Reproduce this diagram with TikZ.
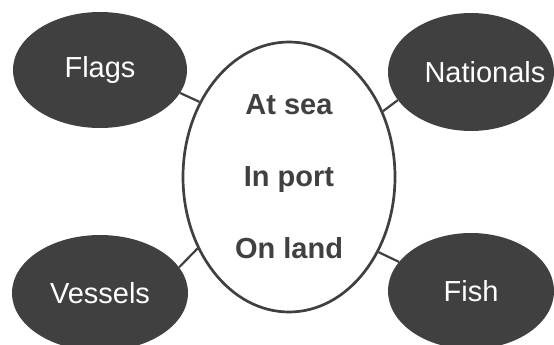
\documentclass[tikz,border=0pt]{standalone}
\usepackage{fontspec}
\setmainfont{Liberation Sans}
\usetikzlibrary{shapes}
\definecolor{darkgrey}{HTML}{404040}

\begin{document}
\begin{tikzpicture}[x=1pt, y=-1pt,
    outer/.style={ellipse, fill=darkgrey, text=white, inner sep=0pt,
        font=\fontsize{29}{35}\selectfont},
    hub/.style={ellipse, draw=darkgrey, line width=2.7pt, fill=white,
        text=darkgrey, align=center, inner sep=0pt,
        font=\fontsize{29}{35}\selectfont\bfseries},
    link/.style={draw=darkgrey, line width=2.2pt}]
    \useasboundingbox (0,0) rectangle (554,345);

    % Centre
    \node[hub, minimum width=212pt, minimum height=270pt] (where) at (289,177)
        {At sea\\[37pt]In port\\[37pt]On land};

    % Top row
    \node[outer, minimum width=174pt, minimum height=116pt] (flags) at (100,70) {Flags};
    \node[outer, minimum width=166pt, minimum height=118pt] (nationals) at (471,72)
        {\makebox[0pt]{\hspace*{28pt}Nationals}};

    % Bottom row
    \node[outer, minimum width=176pt, minimum height=116pt] (vessels) at (100,293) {Vessels};
    \node[outer, minimum width=166pt, minimum height=116pt] (fish) at (471,291) {Fish};

    % Links
    \draw[link] (flags.-16) -- (where.140.6);
    \draw[link] (nationals.201.8) -- (where.35.5);
    \draw[link] (vessels.18.7) -- (where.218.4);
    \draw[link] (fish.158.7) -- (where.320.2);
\end{tikzpicture}
\end{document}
